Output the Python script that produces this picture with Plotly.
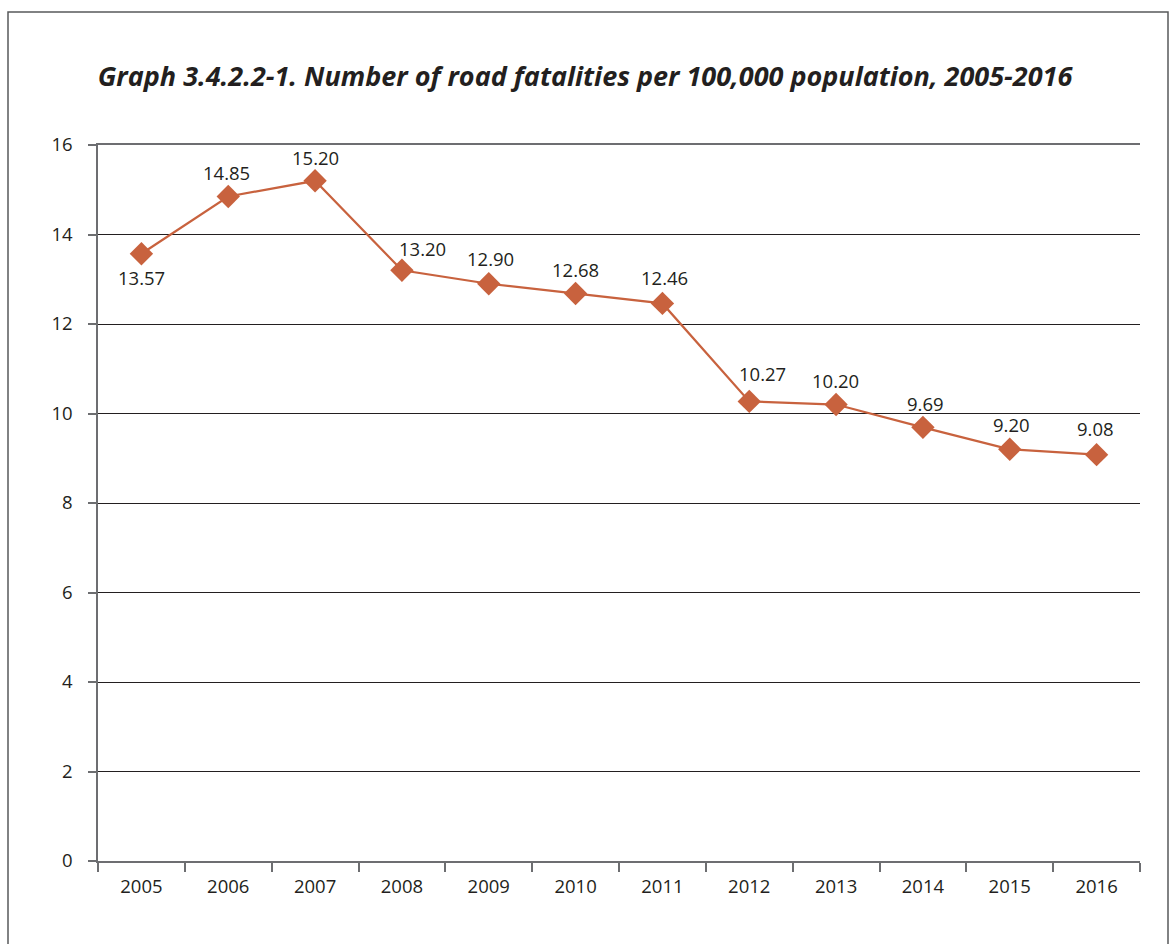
import plotly.graph_objects as go

years = ["2005", "2006", "2007", "2008", "2009", "2010",
         "2011", "2012", "2013", "2014", "2015", "2016"]
fatalities = [13.57, 14.85, 15.20, 13.20, 12.90, 12.68,
              12.46, 10.27, 10.20, 9.69, 9.20, 9.08]
# label nudges (px) so value labels clear the line
label_dx = [0, -2, 0, 21, 2, 0, 2, 13, -1, 3, 2, -1]
label_dy = [-24, 24, 23, 22, 25, 24, 26, 28, 24, 24, 25, 26]

line_color = "#C8623E"
font_family = "Open Sans, Noto Sans, sans-serif"

fig = go.Figure()
fig.add_trace(go.Scatter(
    x=years,
    y=fatalities,
    mode="lines+markers",
    line=dict(color=line_color, width=2.2),
    marker=dict(symbol="diamond", size=18, color=line_color),
    cliponaxis=False,
    showlegend=False,
))

# value labels, placed by category index on the x axis
for i, (v, dx, dy) in enumerate(zip(fatalities, label_dx, label_dy)):
    fig.add_annotation(
        x=i, y=v, xref="x", yref="y",
        text=f"{v:.2f}", showarrow=False,
        xshift=dx, yshift=dy,
        font=dict(family=font_family, size=18.5, color="#231F20"),
    )

fig.update_layout(
    width=1171,
    height=944,
    margin=dict(l=98, r=31, t=145, b=83),
    paper_bgcolor="white",
    plot_bgcolor="white",
    title=dict(
        text="<b><i>Graph 3.4.2.2-1. Number of road fatalities per 100,000 population, 2005-2016</i></b>",
        x=(585 - 98) / 1042, xanchor="center", xref="paper",
        y=1 - 77 / 944, yanchor="middle",
        font=dict(family=font_family, size=27, color="#231F20"),
    ),
    font=dict(family=font_family, size=18.5, color="#231F20"),
    xaxis=dict(
        type="category",
        range=[-0.5, 11.5],
        tickson="boundaries",
        ticks="outside",
        ticklen=9,
        tickcolor="#6D6E71",
        tickwidth=1.5,
        showline=True,
        linecolor="#6D6E71",
        linewidth=1.5,
        mirror=True,
        showgrid=False,
        tickfont=dict(family=font_family, size=18.5, color="#231F20"),
        ticklabelstandoff=8,
    ),
    yaxis=dict(
        range=[0, 16],
        tickvals=[0, 2, 4, 6, 8, 10, 12, 14, 16],
        ticks="outside",
        ticklen=8,
        tickcolor="#6D6E71",
        tickwidth=1.5,
        showline=True,
        linecolor="#6D6E71",
        linewidth=1.5,
        showgrid=True,
        gridcolor="#231F20",
        gridwidth=1,
        zeroline=False,
        tickfont=dict(family=font_family, size=18.5, color="#231F20"),
        ticklabelstandoff=12,
    ),
)

# outer frame around the whole graphic, open at the bottom edge
fig.add_shape(
    type="rect", xref="paper", yref="paper",
    x0=(8 - 98) / 1042, x1=(1168 - 98) / 1042,
    y0=(861 - 960) / 716, y1=(861 - 12) / 716,
    line=dict(color="#58595B", width=1.5),
    fillcolor="rgba(0,0,0,0)",
    layer="below",
)

fig.write_html("out.html")
